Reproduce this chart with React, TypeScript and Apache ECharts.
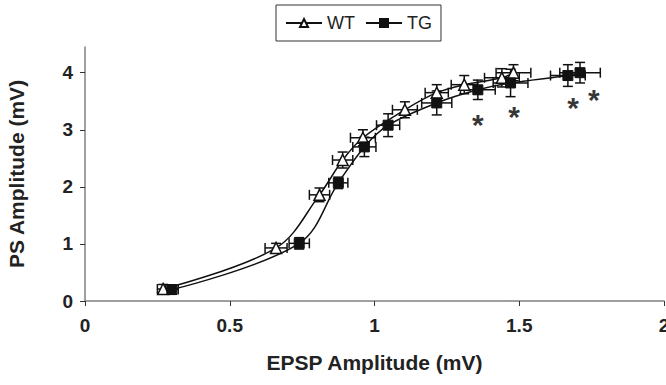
import React, { useEffect, useRef } from "react";
import * as echarts from "echarts";

const wtX = [0.27, 0.66, 0.81, 0.89, 0.96, 1.105, 1.215, 1.31, 1.44, 1.48];
const wtY = [0.21, 0.93, 1.86, 2.47, 2.86, 3.35, 3.65, 3.79, 3.91, 4.0];
const wtXErr = [0.02, 0.038, 0.035, 0.035, 0.043, 0.043, 0.04, 0.045, 0.06, 0.06];
const wtYErr = [0.08, 0.08, 0.12, 0.14, 0.14, 0.14, 0.14, 0.16, 0.16, 0.14];

const tgX = [0.3, 0.74, 0.875, 0.965, 1.047, 1.215, 1.357, 1.47, 1.668, 1.71];
const tgY = [0.2, 1.01, 2.07, 2.7, 3.08, 3.47, 3.7, 3.82, 3.95, 4.0];
const tgXErr = [0.022, 0.035, 0.033, 0.04, 0.04, 0.052, 0.06, 0.06, 0.06, 0.07];
const tgYErr = [0.08, 0.1, 0.1, 0.17, 0.2, 0.21, 0.17, 0.24, 0.19, 0.18];

const starX = [1.357, 1.482, 1.686, 1.758];
const starY = [3.21, 3.35, 3.51, 3.65];

const xTicks = [0, 0.5, 1, 1.5, 2];
const yTicks = [0, 1, 2, 3, 4];

const FONT = "'Liberation Sans', Arial, sans-serif";
const INK = "#111";

function errData(xs: number[], ys: number[], ex: number[], ey: number[]) {
  return xs.map((x, i) => [x, ys[i], ex[i], ey[i]]);
}

function errRender(params: any, api: any) {
  const x = api.value(0);
  const y = api.value(1);
  const ex = api.value(2);
  const ey = api.value(3);
  const l = api.coord([x - ex, y]);
  const r = api.coord([x + ex, y]);
  const t = api.coord([x, y + ey]);
  const b = api.coord([x, y - ey]);
  const cap = 5;
  const st = { stroke: INK, lineWidth: 1.5 };
  return {
    type: "group",
    children: [
      { type: "line", shape: { x1: l[0], y1: l[1], x2: r[0], y2: r[1] }, style: st },
      { type: "line", shape: { x1: l[0], y1: l[1] - cap, x2: l[0], y2: l[1] + cap }, style: st },
      { type: "line", shape: { x1: r[0], y1: r[1] - cap, x2: r[0], y2: r[1] + cap }, style: st },
      { type: "line", shape: { x1: t[0], y1: t[1], x2: b[0], y2: b[1] }, style: st },
      { type: "line", shape: { x1: t[0] - cap, y1: t[1], x2: t[0] + cap, y2: t[1] }, style: st },
      { type: "line", shape: { x1: b[0] - cap, y1: b[1], x2: b[0] + cap, y2: b[1] }, style: st },
    ],
  };
}

export default function App() {
  const ref = useRef<HTMLDivElement>(null);
  useEffect(() => {
    document.body.style.margin = "0";
    if (!ref.current) return;
    const chart = echarts.init(ref.current, undefined, { renderer: "svg" });
    chart.setOption({
      animation: false,
      backgroundColor: "#fff",
      legend: {
        data: ["WT", "TG"],
        left: 276,
        top: 5,
        orient: "horizontal",
        borderColor: "#333",
        borderWidth: 1,
        padding: [9, 9],
        itemGap: 10,
        itemWidth: 36,
        itemHeight: 10,
        textStyle: { fontFamily: FONT, fontSize: 18, color: "#222" },
      },
      grid: { left: 85, right: 2, top: 47, bottom: 84, outerBoundsMode: "none" },
      xAxis: {
        type: "value",
        min: 0,
        max: 2,
        interval: 0.5,
        name: "EPSP Amplitude (mV)",
        nameLocation: "middle",
        nameGap: 51,
        nameTextStyle: { fontFamily: FONT, fontSize: 21, fontWeight: "bold", color: "#222" },
        axisLine: { lineStyle: { color: "#808080", width: 1.5 } },
        axisTick: { show: true, inside: false, length: 5, lineStyle: { color: "#333" }, customValues: xTicks },
        axisLabel: { fontFamily: FONT, fontSize: 19, fontWeight: "bold", color: "#222", margin: 15, customValues: xTicks },
        splitLine: { show: false },
      },
      yAxis: {
        type: "value",
        min: 0,
        max: 4.45,
        interval: 1,
        name: "PS Amplitude (mV)",
        nameLocation: "middle",
        nameGap: 58,
        nameRotate: 90,
        nameTextStyle: { fontFamily: FONT, fontSize: 21, fontWeight: "bold", color: "#222" },
        axisLine: { show: true, lineStyle: { color: "#808080", width: 1.5 } },
        axisTick: { show: true, inside: false, length: 5, lineStyle: { color: "#333" }, customValues: yTicks },
        axisLabel: { fontFamily: FONT, fontSize: 19, fontWeight: "bold", color: "#222", margin: 12, customValues: yTicks },
        splitLine: { show: false },
      },
      series: [
        {
          type: "custom",
          name: "wtErr",
          renderItem: errRender,
          encode: { x: 0, y: 1 },
          data: errData(wtX, wtY, wtXErr, wtYErr),
          z: 2,
          silent: true,
        },
        {
          type: "custom",
          name: "tgErr",
          renderItem: errRender,
          encode: { x: 0, y: 1 },
          data: errData(tgX, tgY, tgXErr, tgYErr),
          z: 2,
          silent: true,
        },
        {
          type: "line",
          name: "WT",
          data: wtX.map((x, i) => [x, wtY[i]]),
          smooth: 0.35,
          symbol: "triangle",
          symbolSize: 11,
          showAllSymbol: true,
          lineStyle: { color: INK, width: 1.5 },
          itemStyle: { color: "#fff", borderColor: INK, borderWidth: 1.5 },
          z: 3,
        },
        {
          type: "line",
          name: "TG",
          data: tgX.map((x, i) => [x, tgY[i]]),
          smooth: 0.35,
          symbol: "rect",
          symbolSize: 10,
          showAllSymbol: true,
          lineStyle: { color: INK, width: 1.5 },
          itemStyle: { color: INK, borderColor: INK, borderWidth: 1 },
          z: 4,
        },
        {
          type: "scatter",
          name: "stars",
          data: starX.map((x, i) => [x, starY[i]]),
          symbolSize: 0,
          label: {
            show: true,
            position: "inside",
            formatter: "*",
            fontFamily: FONT,
            fontSize: 30,
            fontWeight: "bold",
            color: "#000",
            offset: [0, 7],
          },
          silent: true,
          z: 5,
        },
      ],
    });
    return () => chart.dispose();
  }, []);
  return <div ref={ref} style={{ width: 666, height: 385 }} />;
}
